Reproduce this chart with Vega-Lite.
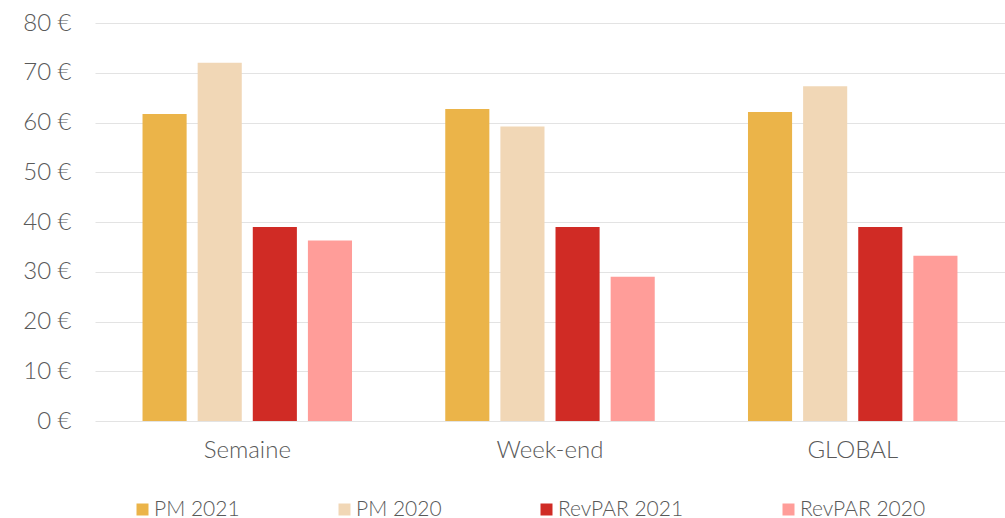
{
  "$schema": "https://vega.github.io/schema/vega-lite/v6.json",
  "width": 910,
  "height": 398,
  "autosize": "none",
  "padding": {"left": 95, "top": 23, "right": 0, "bottom": 97},
  "background": "white",
  "config": {
    "view": {"stroke": null},
    "font": "Lato",
    "axis": {"labelFont": "Lato", "labelColor": "#595959", "labelFontSize": 24, "labelFontWeight": 300},
    "legend": {"labelFont": "Lato", "labelFontWeight": 300}
  },
  "data": {
    "values": [
      {"period": "Semaine", "series": "PM 2021", "value": 61.7},
      {"period": "Semaine", "series": "PM 2020", "value": 72.0},
      {"period": "Semaine", "series": "RevPAR 2021", "value": 39.0},
      {"period": "Semaine", "series": "RevPAR 2020", "value": 36.3},
      {"period": "Week-end", "series": "PM 2021", "value": 62.7},
      {"period": "Week-end", "series": "PM 2020", "value": 59.2},
      {"period": "Week-end", "series": "RevPAR 2021", "value": 39.0},
      {"period": "Week-end", "series": "RevPAR 2020", "value": 29.0},
      {"period": "GLOBAL", "series": "PM 2021", "value": 62.1},
      {"period": "GLOBAL", "series": "PM 2020", "value": 67.3},
      {"period": "GLOBAL", "series": "RevPAR 2021", "value": 39.0},
      {"period": "GLOBAL", "series": "RevPAR 2020", "value": 33.2}
    ]
  },
  "mark": {"type": "bar"},
  "encoding": {
    "x": {
      "field": "period",
      "type": "nominal",
      "sort": ["Semaine", "Week-end", "GLOBAL"],
      "scale": {"paddingInner": 0.308, "paddingOuter": 0.157},
      "axis": {
        "title": null,
        "labelAngle": 0,
        "domain": false,
        "ticks": false,
        "labelPadding": 17
      }
    },
    "xOffset": {
      "field": "series",
      "type": "nominal",
      "sort": ["PM 2021", "PM 2020", "RevPAR 2021", "RevPAR 2020"],
      "scale": {"paddingInner": 0.2, "paddingOuter": 0}
    },
    "y": {
      "field": "value",
      "type": "quantitative",
      "scale": {"domain": [0, 80]},
      "axis": {
        "title": null,
        "values": [0, 10, 20, 30, 40, 50, 60, 70, 80],
        "labelExpr": "datum.value + ' €'",
        "labelOverlap": false,
        "domain": false,
        "ticks": false,
        "labelPadding": 24,
        "gridColor": "#e3e3e3",
        "gridWidth": 1
      }
    },
    "color": {
      "field": "series",
      "type": "nominal",
      "sort": ["PM 2021", "PM 2020", "RevPAR 2021", "RevPAR 2020"],
      "scale": {
        "domain": ["PM 2021", "PM 2020", "RevPAR 2021", "RevPAR 2020"],
        "range": ["#ebb449", "#f1d7b6", "#d02b25", "#ff9d99"]
      },
      "legend": {
        "title": null,
        "orient": "none",
        "direction": "horizontal",
        "legendX": 37,
        "legendY": 476,
        "symbolType": "square",
        "symbolSize": 144,
        "symbolStrokeWidth": 0,
        "labelFontSize": 21,
        "labelColor": "#595959",
        "labelOffset": 1,
        "columnPadding": 94,
        "gridAlign": "none"
      }
    }
  }
}
